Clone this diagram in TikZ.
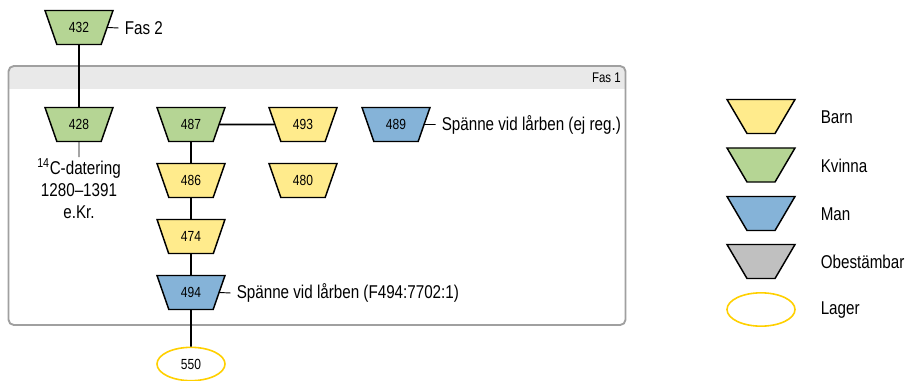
\documentclass[tikz,border=0pt]{standalone}
\usepackage{fontspec}
\setmainfont{Liberation Sans}[FakeStretch=0.82]
\usetikzlibrary{shapes.geometric}
\definecolor{barnyellow}{RGB}{255,235,140}
\definecolor{kvinnagreen}{RGB}{181,213,148}
\definecolor{manblue}{RGB}{133,179,216}
\definecolor{obestgrey}{RGB}{192,192,192}
\definecolor{lageryellow}{RGB}{255,208,0}
\definecolor{fasgrey}{RGB}{160,160,160}
\definecolor{fasband}{RGB}{233,233,233}
\tikzset{
  grave/.style={trapezium,shape border rotate=180,trapezium stretches=true,
    trapezium left angle=64,trapezium right angle=64,
    minimum width=51pt,minimum height=25.5pt,inner sep=0.5pt,
    draw,line width=1.1pt,font=\fontsize{11}{13}\selectfont},
  barn/.style={grave,fill=barnyellow},
  kvinna/.style={grave,fill=kvinnagreen},
  man/.style={grave,fill=manblue},
  obest/.style={grave,fill=obestgrey},
  lager/.style={ellipse,draw=lageryellow,line width=1.2pt,fill=white,
    minimum width=51pt,minimum height=25pt,inner sep=0.5pt,
    font=\fontsize{11}{13}\selectfont},
  lbl/.style={anchor=west,inner xsep=4.5pt,inner ysep=0pt,
    font=\fontsize{13.9}{16.5}\selectfont},
  link/.style={line width=1.2pt},
  thinlink/.style={line width=0.7pt}
}
\begin{document}
\begin{tikzpicture}[x=0.75pt,y=-0.75pt]
\useasboundingbox (0,0) rectangle (909,381);
% Fas 1 frame
\fill[fasband] (8.5,89) [rounded corners=4pt] -- (8.5,66) -- (625.5,66)
 [sharp corners] -- (625.5,89) -- cycle;
\draw[fasgrey,line width=1.4pt,rounded corners=4pt] (8.5,66) rectangle (625.5,325);
\node[anchor=east,inner sep=0pt,font=\fontsize{10.5}{12}\selectfont] (fas1) at (621,78) {Fas 1};
% graves
\node[kvinna] (g432) at (79,27.5) {432};
\node[kvinna] (g428) at (79,124.5) {428};
\node[kvinna] (g487) at (191,124.5) {487};
\node[barn] (g493) at (303,124.5) {493};
\node[man] (g489) at (396,124.5) {489};
\node[barn] (g486) at (191,180.5) {486};
\node[barn] (g480) at (303,180.5) {480};
\node[barn] (g474) at (191,236.5) {474};
\node[man] (g494) at (191,292.5) {494};
\node[lager] (l550) at (191,364) {550};
\draw[link] (g432) -- (g428);
\draw[link] (g487) -- (g493);
\draw[link] (g487) -- (g486);
\draw[link] (g486) -- (g474);
\draw[link] (g474) -- (g494);
\draw[link] (g494) -- (l550);
% labels
\node[lbl] (fas2) at (118.5,28) {Fas 2};
\draw[thinlink] (g432.east) -- (fas2.west);
\node[lbl] (sp489) at (435.5,124.5) {Spänne vid lårben (ej reg.)};
\draw[thinlink] (g489.east) -- (sp489.west);
\node[lbl] (sp494) at (230.5,293) {Spänne vid lårben (F494:7702:1)};
\draw[thinlink] (g494.east) -- (sp494.west);
\node[anchor=north,align=center,inner sep=1pt,font=\fontsize{13.9}{16.5}\selectfont]
 (date) at (79,157) {\textsuperscript{14}C-datering\\1280–1391\\e.Kr.};
\draw[thinlink] (g428) -- (date);
% legend
\node[barn] (kbarn) at (761,116.5) {\phantom{0}};
\node[kvinna] (kkvinna) at (761,165) {\phantom{0}};
\node[man] (kman) at (761,213.5) {\phantom{0}};
\node[obest] (kobest) at (761,261.5) {\phantom{0}};
\node[lager] (klager) at (761,309.5) {\phantom{0}};
\node[lbl,inner xsep=0pt] (tbarn) at (820.5,117) {Barn};
\node[lbl,inner xsep=0pt] (tkvinna) at (820.5,166) {Kvinna};
\node[lbl,inner xsep=0pt] (tman) at (820.5,214) {Man};
\node[lbl,inner xsep=0pt] (tobest) at (820.5,262) {Obestämbar};
\node[lbl,inner xsep=0pt] (tlager) at (820.5,310.5) {Lager};
\end{tikzpicture}
\end{document}
